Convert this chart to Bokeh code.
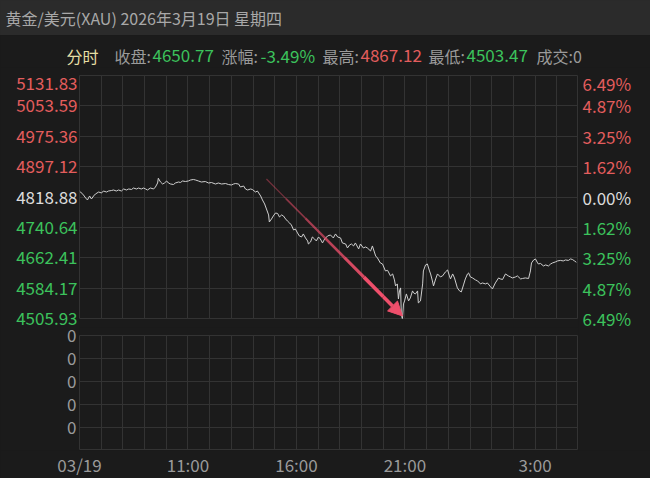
from bokeh.plotting import figure
from bokeh.layouts import column, row
from bokeh.models import (Range1d, FixedTicker, Label, ColumnDataSource,
                          Arrow, NormalHead, GlobalInlineStyleSheet)
from bokeh.core.properties import value, field
from bokeh.embed import file_html
from bokeh.resources import INLINE

# ---------------- data ----------------
title_text = "黄金/美元(XAU) 2026年3月19日 星期四"
base_price = 4818.88
close_price = 4650.77
high_price = 4867.12
low_price = 4503.47
volume = 0

price_levels = [5131.83, 5053.59, 4975.36, 4897.12, 4818.88, 4740.64, 4662.41, 4584.17, 4505.93]
pct_labels = ["6.49%", "4.87%", "3.25%", "1.62%", "0.00%", "1.62%", "3.25%", "4.87%", "6.49%"]

time_ticks = [0, 300, 600, 900, 1260]          # minutes after 06:00
time_labels = ["03/19", "11:00", "16:00", "21:00", "3:00"]
session_minutes = 1380

vol_ticks = [1, 2, 3, 4, 5]
vol_labels = ["0", "0", "0", "0", "0"]
vol_max = 5

minutes = [0, 3, 11, 17, 22, 28, 33, 39, 44, 53,
           61, 66, 75, 80, 88, 94, 102, 108, 116, 122,
           130, 136, 144, 149, 158, 163, 171, 177, 183, 188,
           196, 205, 210, 216, 218, 224, 230, 235, 241, 246,
           252, 260, 265, 274, 279, 285, 293, 301, 307, 315,
           321, 329, 337, 348, 357, 365, 376, 384, 393, 404,
           412, 420, 426, 431, 440, 445, 454, 459, 465, 473,
           478, 487, 492, 501, 506, 512, 517, 523, 525, 531,
           536, 542, 548, 553, 559, 564, 570, 575, 581, 586,
           592, 597, 603, 608, 614, 619, 625, 631, 633, 639,
           644, 650, 655, 661, 666, 672, 678, 686, 694, 702,
           708, 714, 722, 727, 736, 741, 747, 752, 758, 763,
           772, 777, 785, 791, 796, 805, 810, 819, 824, 832,
           838, 846, 852, 860, 866, 871, 874, 879, 882, 885,
           888, 890, 893, 896, 899, 904, 910, 915, 921, 924,
           929, 935, 937, 943, 949, 951, 957, 962, 968, 971,
           976, 979, 985, 990, 998, 1004, 1012, 1018, 1023, 1026,
           1032, 1037, 1045, 1051, 1056, 1062, 1067, 1073, 1076, 1081,
           1087, 1095, 1101, 1109, 1114, 1123, 1128, 1137, 1142, 1150,
           1159, 1164, 1170, 1178, 1186, 1192, 1197, 1206, 1211, 1220,
           1225, 1233, 1242, 1247, 1250, 1256, 1261, 1267, 1269, 1275,
           1283, 1289, 1297, 1303, 1308, 1316, 1322, 1330, 1338, 1344,
           1352, 1358, 1363, 1369, 1374]

prices = [4834.3, 4831.7, 4824.0, 4816.3, 4811.2, 4821.5, 4813.7, 4821.5, 4826.6, 4831.7,
          4829.2, 4834.3, 4831.7, 4834.3, 4835.5, 4836.9, 4834.3, 4836.9, 4834.3, 4839.5,
          4836.9, 4839.5, 4838.2, 4842.0, 4839.5, 4842.0, 4839.5, 4842.0, 4839.5, 4836.9,
          4842.0, 4839.5, 4844.6, 4854.9, 4867.1, 4857.5, 4852.3, 4854.9, 4860.1, 4854.9,
          4852.3, 4851.0, 4854.9, 4857.5, 4856.2, 4860.1, 4858.8, 4860.1, 4862.6, 4864.0,
          4862.6, 4860.1, 4857.5, 4858.8, 4854.9, 4856.2, 4852.3, 4854.9, 4852.3, 4853.6,
          4851.0, 4849.8, 4852.3, 4853.6, 4852.3, 4844.6, 4847.2, 4839.5, 4836.9, 4839.5,
          4838.2, 4831.7, 4834.3, 4821.5, 4811.2, 4800.9, 4788.0, 4772.6, 4754.5, 4762.3,
          4770.0, 4777.7, 4776.4, 4767.4, 4772.6, 4770.0, 4762.3, 4757.1, 4752.0, 4746.8,
          4734.0, 4736.5, 4726.2, 4718.5, 4715.9, 4723.7, 4713.4, 4705.6, 4697.9, 4703.1,
          4715.9, 4710.8, 4705.6, 4715.9, 4710.8, 4700.5, 4710.8, 4718.5, 4721.1, 4713.4,
          4723.7, 4715.9, 4713.4, 4700.5, 4697.9, 4687.6, 4695.4, 4697.9, 4692.8, 4700.5,
          4685.1, 4697.9, 4687.6, 4690.2, 4687.6, 4679.9, 4692.8, 4667.0, 4661.9, 4649.0,
          4646.4, 4628.4, 4630.0, 4615.6, 4620.7, 4605.3, 4589.8, 4595.0, 4556.4, 4577.0,
          4584.7, 4517.8, 4503.5, 4543.5, 4551.2, 4569.2, 4551.2, 4558.9, 4577.0, 4571.8,
          4569.2, 4577.0, 4546.1, 4551.2, 4595.0, 4628.4, 4643.9, 4646.4, 4628.4, 4620.7,
          4602.7, 4589.8, 4607.8, 4620.7, 4613.0, 4615.6, 4625.9, 4631.0, 4615.6, 4607.8,
          4620.7, 4610.4, 4584.7, 4577.0, 4574.4, 4592.4, 4607.8, 4620.7, 4623.3, 4613.0,
          4610.4, 4605.3, 4602.7, 4595.0, 4597.5, 4595.0, 4597.5, 4587.3, 4582.1, 4597.5,
          4610.4, 4607.8, 4606.5, 4620.7, 4615.6, 4613.0, 4610.4, 4613.0, 4615.6, 4607.8,
          4609.0, 4610.4, 4609.0, 4628.4, 4649.0, 4656.7, 4659.3, 4649.0, 4646.4, 4647.7,
          4641.3, 4643.9, 4641.3, 4646.4, 4649.0, 4651.6, 4654.2, 4655.5, 4654.2, 4656.7,
          4655.5, 4659.3, 4658.0, 4654.2, 4650.77]

# annotation arrow (start / end in data coordinates)
arrow_start = (517, 4865.2)
arrow_end = (893, 4512.6)

# ---------------- style / geometry ----------------
BG = "#1b1b1b"
HEAD_BG = "#2b2b2b"
GRID = "#333333"
RED = "#e35d5d"
GREEN = "#3cc25c"
GRAY = "#9a9a9a"
WHITE = "#dcdcdc"
YELLOW = "#e6dfa4"
LINE = "#cfcfcf"
ARROW = "#ee4f6b"
FONT = "Noto Sans CJK SC"

W, H = 650, 478
HEAD_H, STATS_H, XLAB_H = 35, 32, 28
LEFT_W, RIGHT_W = 79, 72
PLOT_W = W - LEFT_W - RIGHT_W                       # 499
LOWER_H = H - HEAD_H - STATS_H - XLAB_H              # 383 (price + volume panels)
P_TOP, P_FRAME, P_BOT = 8, 243, 9
V_TOP, V_FRAME = 8, 115
P_H = P_TOP + P_FRAME + P_BOT
V_H = LOWER_H - P_H
COMMON = dict(output_backend="svg", toolbar_location=None, frame_align=False)


def blank(w, h, bg, xr=None, yr=None, **kw):
    f = figure(width=w, height=h, x_axis_location=None, y_axis_location=None, min_border=0,
               x_range=xr or Range1d(0, w), y_range=yr or Range1d(0, h), **COMMON, **kw)
    f.grid.visible = False
    f.outline_line_color = None
    f.background_fill_color = bg
    f.border_fill_color = bg
    return f


def lab(fig, x, y, text, color, size="16px", align="left"):
    fig.add_layout(Label(x=x, y=y, x_units="screen", y_units="screen", text=text,
                         text_color=color, text_font=FONT, text_font_size=size,
                         text_baseline="middle", text_align=align))


# header
head = blank(W, HEAD_H, HEAD_BG)
lab(head, 5, 18, title_text, "#a8a8a8", size="16px")

# stats row
stats = blank(W, STATS_H, BG)
chg = (close_price - base_price) / base_price * 100
items = [
    (66, "分时", YELLOW, "16px"),
    (114, "收盘:", GRAY, "16px"), (152, f"{close_price:.2f}", GREEN, "17px"),
    (221, "涨幅:", GRAY, "16px"), (260, f"{chg:.2f}%", GREEN, "17px"),
    (322, "最高:", GRAY, "16px"), (360, f"{high_price:.2f}", RED, "17px"),
    (428, "最低:", GRAY, "16px"), (466, f"{low_price:.2f}", GREEN, "17px"),
    (536, f"成交:{volume}", GRAY, "16px"),
]
for x, t, c, s in items:
    lab(stats, x, 12, t, c, size=s)

# price panel
hours = list(range(0, session_minutes + 1, 60))
p = figure(width=PLOT_W, height=P_H,
           x_range=Range1d(0, session_minutes),
           y_range=Range1d(price_levels[-1], price_levels[0]),
           x_axis_location=None, y_axis_location=None,
           min_border_left=0, min_border_right=0, min_border_top=P_TOP, min_border_bottom=P_BOT,
           **COMMON)
p.background_fill_color = BG
p.border_fill_color = BG
p.outline_line_color = GRID
p.xgrid.ticker = FixedTicker(ticks=hours)
p.ygrid.ticker = FixedTicker(ticks=price_levels)
p.grid.grid_line_color = GRID

p.line(minutes, prices, line_color=LINE, line_width=1)

# tapered arrow
n = 6
frac_end = 0.86
for i in range(n):
    f0 = frac_end * i / n
    f1 = frac_end * (i + 1) / n
    p.segment(x0=arrow_start[0] + (arrow_end[0] - arrow_start[0]) * f0,
              y0=arrow_start[1] + (arrow_end[1] - arrow_start[1]) * f0,
              x1=arrow_start[0] + (arrow_end[0] - arrow_start[0]) * f1,
              y1=arrow_start[1] + (arrow_end[1] - arrow_start[1]) * f1,
              line_color=ARROW, line_width=0.8 + 2.8 * (i + 1) / n,
              line_alpha=0.3 + 0.7 * (i + 1) / n)
ax_mid = arrow_start[0] + (arrow_end[0] - arrow_start[0]) * frac_end
ay_mid = arrow_start[1] + (arrow_end[1] - arrow_start[1]) * frac_end
p.add_layout(Arrow(x_start=ax_mid, y_start=ay_mid, x_end=arrow_end[0], y_end=arrow_end[1],
                   line_color=ARROW, line_width=3.6,
                   end=NormalHead(size=14, fill_color=ARROW, line_color=ARROW)))

# volume panel (no volume traded)
v = figure(width=PLOT_W, height=V_H,
           x_range=p.x_range, y_range=Range1d(0, vol_max),
           x_axis_location=None, y_axis_location=None,
           min_border_left=0, min_border_right=0, min_border_top=V_TOP,
           min_border_bottom=V_H - V_TOP - V_FRAME, **COMMON)
v.background_fill_color = BG
v.border_fill_color = BG
v.outline_line_color = GRID
v.xgrid.ticker = FixedTicker(ticks=hours)
v.ygrid.ticker = FixedTicker(ticks=vol_ticks)
v.grid.grid_line_color = GRID

# side label panels share the pixel mapping of the price and volume frames
ppx = (price_levels[0] - price_levels[-1]) / P_FRAME
side_yr = Range1d(price_levels[-1] - (LOWER_H - P_TOP - P_FRAME) * ppx,
                  price_levels[0] + P_TOP * ppx)
vpx = vol_max / V_FRAME
side_vr = Range1d(0 - (V_H - V_TOP - V_FRAME) * vpx, vol_max + (P_H + V_TOP) * vpx)

colors = [RED if lv > base_price else (GREEN if lv < base_price else WHITE) for lv in price_levels]
lab_y = [lv - 8 * ppx if lv == max(price_levels) else lv for lv in price_levels]
src = ColumnDataSource(dict(y=lab_y, left=[f"{lv:.2f}" for lv in price_levels],
                            right=pct_labels, color=colors))
vsrc = ColumnDataSource(dict(y=vol_ticks, t=vol_labels))

lp = blank(LEFT_W, LOWER_H, BG, yr=side_yr, extra_y_ranges={"vol": side_vr})
rp = blank(RIGHT_W, LOWER_H, BG, yr=side_yr)
tkw = dict(y="y", source=src, text_baseline="middle", text_color=field("color"),
           text_font=value(FONT), text_font_size="17px")
lp.text(x=LEFT_W - 2, text="left", text_align="right", **tkw)
rp.text(x=4, text="right", text_align="left", **tkw)
lp.text(x=LEFT_W - 3, y="y", text="t", source=vsrc, y_range_name="vol",
        text_align="right", text_baseline="middle", text_color=GRAY,
        text_font=value(FONT), text_font_size="17px")

# time axis row
xl = figure(width=W, height=XLAB_H, x_range=p.x_range, y_range=Range1d(0, 1),
            y_axis_location=None, min_border_left=LEFT_W, min_border_right=RIGHT_W,
            min_border_top=0, min_border_bottom=XLAB_H - 5, **COMMON)
xl.grid.visible = False
xl.outline_line_color = None
xl.background_fill_color = BG
xl.border_fill_color = BG
xl.xaxis.ticker = FixedTicker(ticks=time_ticks)
xl.xaxis.major_label_overrides = {t: l for t, l in zip(time_ticks, time_labels)}
ax = xl.xaxis[0]
ax.axis_line_color = None
ax.major_tick_line_color = None
ax.minor_tick_line_color = None
ax.major_tick_out = 0
ax.major_tick_in = 0
ax.major_label_standoff = 1
ax.major_label_text_color = GRAY
ax.major_label_text_font = FONT
ax.major_label_text_font_size = "17px"

css = GlobalInlineStyleSheet(css="html{background:#1b1b1b linear-gradient(#2b2b2b,#2b2b2b) no-repeat 0 0/100% 35px;}")
layout = column(head, stats, row(lp, column(p, v), rp), xl, stylesheets=[css])

open("out.html", "w").write(file_html(layout, INLINE))
